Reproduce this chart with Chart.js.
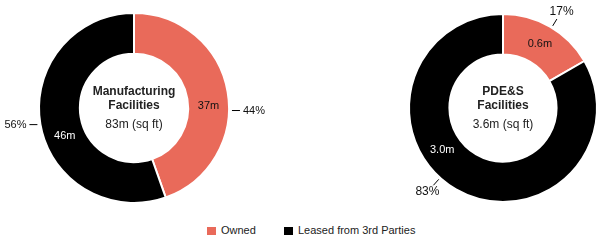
<!DOCTYPE html>
<html>
<head>
<meta charset="utf-8">
<script src="https://cdn.jsdelivr.net/npm/chart.js@4"></script>
<style>
    html, body { margin: 0; padding: 0; background: #fff; }
    body { width: 606px; height: 241px; position: relative; overflow: hidden; font-family: "Liberation Sans", Arial, sans-serif; }
    #mfgWrap { position: absolute; left: 0; top: 0; width: 270px; height: 216px; }
    #pdeWrap { position: absolute; left: 300px; top: 0; width: 306px; height: 216px; }
    .legend { position: absolute; top: 224px; font-size: 11px; color: #222; line-height: 12px; }
    .legend span.box { display: inline-block; width: 9px; height: 8px; margin-right: 5px; vertical-align: -1px; }
</style>
</head>
<body>
<div id="mfgWrap"><canvas id="mfgChart"></canvas></div>
<div id="pdeWrap"><canvas id="pdeChart"></canvas></div>
<div class="legend" style="left:207px"><span class="box" style="background:#E96A5A"></span>Owned</div>
<div class="legend" style="left:284px"><span class="box" style="background:#000"></span>Leased from 3rd Parties</div>

<script>
// Data
const categories = ["Owned", "Leased from 3rd Parties"];
const mfgValues = [37, 46];
const mfgValueLabels = ["37m", "46m"];
const mfgPctLabels = ["44%", "56%"];
const mfgTitle = ["Manufacturing", "Facilities"];
const mfgTotal = "83m (sq ft)";

const pdeValues = [0.6, 3.0];
const pdeValueLabels = ["0.6m", "3.0m"];
const pdePctLabels = ["17%", "83%"];
const pdeTitle = ["PDE&S", "Facilities"];
const pdeTotal = "3.6m (sq ft)";

const colors = ["#E96A5A", "#000000"];

// Draws center text, value labels inside the ring and percent labels with leader lines
const donutLabels = {
    id: 'donutLabels',
    afterDatasetsDraw(chart, args, opts) {
        const ctx = chart.ctx;
        const meta = chart.getDatasetMeta(0);
        const first = meta.data[0];
        const cx = first.x, cy = first.y;
        const outer = first.outerRadius, inner = first.innerRadius;

        ctx.save();
        ctx.textAlign = 'center';
        ctx.textBaseline = 'middle';
        ctx.fillStyle = '#222';
        ctx.font = 'bold 12px "Liberation Sans", Arial, sans-serif';
        opts.title.forEach((line, i) => {
            ctx.fillText(line, cx, cy - 16 + i * 14);
        });
        ctx.font = '12px "Liberation Sans", Arial, sans-serif';
        ctx.fillText(opts.total, cx, cy + 17);

        meta.data.forEach((arc, i) => {
            const span = arc.endAngle - arc.startAngle;

            // value label inside the ring
            const a1 = arc.startAngle + span * opts.valuePos[i];
            const r1 = (inner + outer) / 2;
            ctx.font = '11px "Liberation Sans", Arial, sans-serif';
            ctx.textAlign = 'center';
            ctx.fillStyle = opts.valueColors[i];
            ctx.fillText(opts.valueLabels[i], cx + Math.cos(a1) * r1, cy + Math.sin(a1) * r1);

            // percent label outside
            const a2 = arc.startAngle + span * opts.pctPos[i];
            const px = cx + Math.cos(a2) * (outer + 3);
            const py = cy + Math.sin(a2) * (outer + 3);
            ctx.strokeStyle = '#000';
            ctx.lineWidth = 1;
            ctx.fillStyle = '#111';
            ctx.font = opts.pctFont;
            ctx.beginPath();
            if (opts.leader === 'horizontal') {
                const dir = Math.cos(a2) >= 0 ? 1 : -1;
                ctx.moveTo(px, py);
                ctx.lineTo(px + dir * 8, py);
                ctx.stroke();
                ctx.textAlign = dir > 0 ? 'left' : 'right';
                ctx.fillText(opts.pctLabels[i], px + dir * 11, py);
            } else {
                ctx.moveTo(cx + Math.cos(a2) * (outer + 2), cy + Math.sin(a2) * (outer + 2));
                ctx.lineTo(cx + Math.cos(a2) * (outer + 10), cy + Math.sin(a2) * (outer + 10));
                ctx.stroke();
                ctx.textAlign = 'center';
                ctx.fillText(opts.pctLabels[i], cx + Math.cos(a2) * (outer + 19), cy + Math.sin(a2) * (outer + 19));
            }
        });
        ctx.restore();
    }
};

function makeDonut(canvasId, values, padding, labelOpts) {
    return new Chart(document.getElementById(canvasId), {
        type: 'doughnut',
        data: {
            labels: categories,
            datasets: [{
                data: values,
                backgroundColor: colors,
                borderColor: '#ffffff',
                borderWidth: 2,
                hoverOffset: 0
            }]
        },
        options: {
            responsive: true,
            maintainAspectRatio: false,
            animation: false,
            cutout: '57%',
            layout: { padding: padding },
            plugins: {
                legend: { display: false },
                tooltip: { enabled: false },
                donutLabels: labelOpts
            }
        },
        plugins: [donutLabels]
    });
}

makeDonut('mfgChart', mfgValues, { top: 12, bottom: 12, left: 38, right: 40 }, {
    title: mfgTitle,
    total: mfgTotal,
    valueLabels: mfgValueLabels,
    valueColors: ['#111', '#fff'],
    valuePos: [0.55, 0.44],
    pctLabels: mfgPctLabels,
    pctPos: [0.57, 0.5],
    pctFont: '11px "Liberation Sans", Arial, sans-serif',
    leader: 'horizontal'
});

makeDonut('pdeChart', pdeValues, { top: 13, bottom: 13, left: 108, right: 8 }, {
    title: pdeTitle,
    total: pdeTotal,
    valueLabels: pdeValueLabels,
    valueColors: ['#111', '#fff'],
    valuePos: [0.5, 0.585],
    pctLabels: pdePctLabels,
    pctPos: [0.52, 0.54],
    pctFont: '12px "Liberation Sans", Arial, sans-serif',
    leader: 'radial'
});
</script>
</body>
</html>
